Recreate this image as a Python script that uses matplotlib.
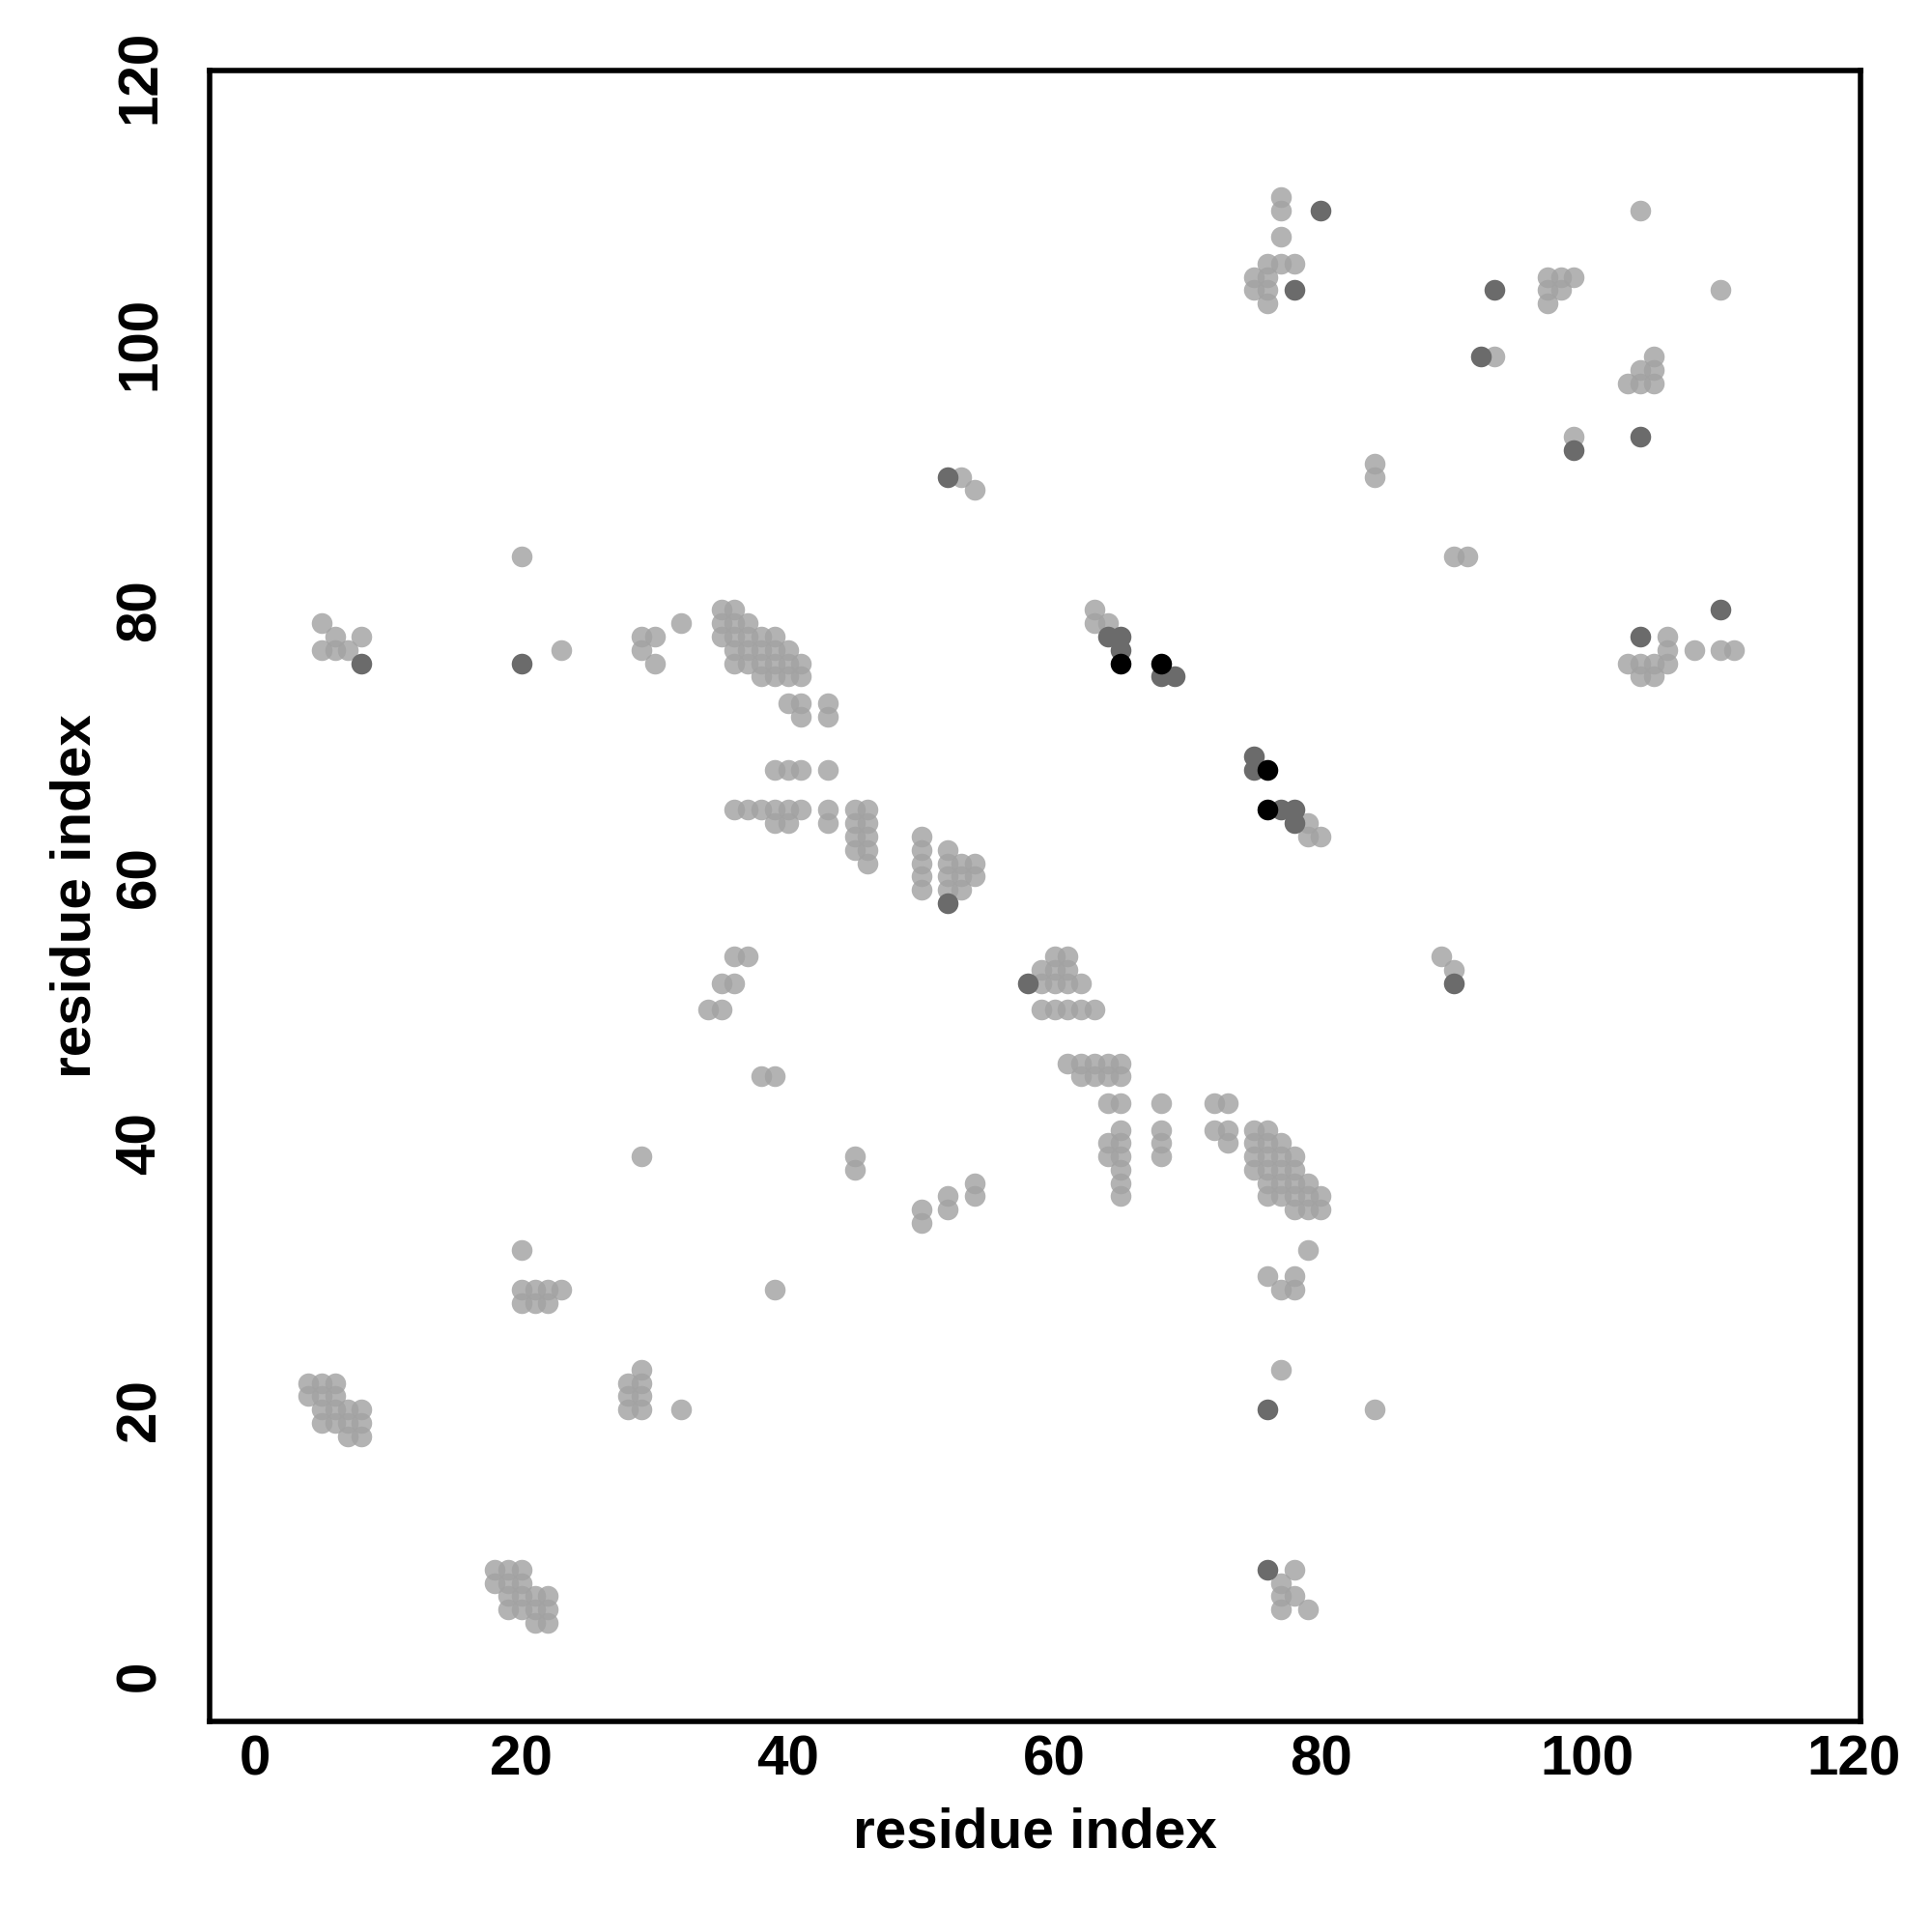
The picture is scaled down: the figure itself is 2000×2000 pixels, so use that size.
import matplotlib
matplotlib.use("Agg")
import matplotlib.pyplot as plt

# ---- data: contacts (x = residue i, y = residue j) grouped by shade ----
light_x = [4, 5, 6, 4, 5, 6, 5, 6, 7, 8, 5, 6, 7, 8, 7, 8,
           18, 19, 20, 18, 19, 20, 19, 20, 21, 22, 19, 20, 21, 22, 21, 22,
           29, 28, 29, 28, 29, 28, 29, 32,
           20, 20, 21, 22, 23, 20, 21, 22,
           29, 39, 45, 45, 50, 50, 52, 52, 54, 54,
           61, 62, 63, 64, 65, 62, 63, 64, 65,
           64, 65, 68, 72, 73, 65, 68, 72, 73,
           64, 65, 68, 73, 64, 65, 68, 65, 65, 65,
           75, 76, 75, 76, 77, 75, 76, 77, 78, 75, 76, 77, 78,
           76, 77, 78, 79, 76, 77, 78, 79, 80, 78, 79, 80,
           79, 76, 78, 77, 78, 77, 84, 78, 77, 77, 78, 77, 79,
           59, 60, 61, 62, 63, 59, 60, 61, 60, 61, 59, 60, 61, 62,
           34, 35, 35, 36, 36, 37, 38, 39,
           50, 50, 50, 50, 50, 52, 52, 52, 52, 53, 53, 53, 54, 54,
           36, 37, 38, 39, 40, 41, 43, 45, 46,
           39, 40, 43, 45, 46, 45, 46, 45, 46, 46,
           39, 40, 41, 43,
           35, 36, 35, 36, 37, 35, 36, 37, 38, 39,
           36, 37, 38, 39, 40, 36, 37, 38, 39, 40, 41,
           38, 39, 40, 41, 40, 41, 43, 41, 43,
           5, 6, 8, 5, 6, 7, 20, 23, 29, 30, 29, 30, 32,
           53, 54, 63, 63, 64,
           77, 77, 77, 76, 77, 78, 75, 76, 75, 76, 76,
           84, 84,
           104, 97, 98, 99, 97, 98, 97, 110, 93, 105, 104, 105, 103, 104, 105, 99,
           90, 91,
           106, 106, 108, 110, 111, 103, 104, 105, 106, 104, 105,
           89, 90, 79, 79, 80]
light_y = [22, 22, 22, 21, 21, 21, 20, 20, 20, 20, 19, 19, 19, 19, 18, 18,
           8, 8, 8, 7, 7, 7, 6, 6, 6, 6, 5, 5, 5, 5, 4, 4,
           23, 22, 22, 21, 21, 20, 20, 20,
           32, 29, 29, 29, 29, 28, 28, 28,
           39, 29, 39, 38, 35, 34, 36, 35, 37, 36,
           46, 46, 46, 46, 46, 45, 45, 45, 45,
           43, 43, 43, 43, 43, 41, 41, 41, 41,
           40, 40, 40, 40, 39, 39, 39, 38, 37, 36,
           41, 41, 40, 40, 40, 39, 39, 39, 39, 38, 38, 38, 38,
           37, 37, 37, 37, 36, 36, 36, 36, 36, 35, 35, 35,
           32, 30, 30, 29, 29, 23, 20, 8, 7, 6, 6, 5, 5,
           50, 50, 50, 50, 50, 53, 53, 53, 54, 54, 52, 52, 52, 52,
           50, 50, 52, 52, 54, 54, 45, 45,
           63, 62, 61, 60, 59, 62, 61, 60, 59, 61, 60, 59, 61, 60,
           65, 65, 65, 65, 65, 65, 65, 65, 65,
           64, 64, 64, 64, 64, 63, 63, 62, 62, 61,
           68, 68, 68, 68,
           80, 80, 79, 79, 79, 78, 78, 78, 78, 78,
           77, 77, 77, 77, 77, 76, 76, 76, 76, 76, 76,
           75, 75, 75, 75, 73, 73, 73, 72, 72,
           79, 78, 78, 77, 77, 77, 84, 77, 78, 78, 77, 76, 79,
           90, 89, 80, 79, 79,
           111, 110, 108, 106, 106, 106, 105, 105, 104, 104, 103,
           91, 90,
           110, 105, 105, 105, 104, 104, 103, 104, 99, 99, 98, 98, 97, 97, 97, 93,
           84, 84,
           78, 77, 77, 77, 77, 76, 76, 76, 76, 75, 75,
           54, 53, 64, 63, 63]

dark_x = [8, 20, 52, 58, 52, 64, 65, 65, 68, 69, 75, 75, 77, 78, 78,
          76, 76, 80, 78, 93, 92, 99, 104, 110, 104, 90]
dark_y = [76, 76, 90, 52, 58, 78, 78, 77, 75, 75, 69, 68, 65, 65, 64,
          20, 8, 110, 104, 104, 99, 92, 93, 80, 78, 52]

black_x = [65, 68, 76, 76]
black_y = [76, 76, 68, 65]

ticks = [0, 20, 40, 60, 80, 100, 120]
axis_label = "residue index"

plt.rcParams['font.family'] = ['Liberation Sans', 'DejaVu Sans']

fig = plt.figure(figsize=(10, 10), dpi=200)
ax = fig.add_axes([0.1085, 0.109, 0.8545, 0.8546])

msize = 60
ax.scatter(light_x, light_y, s=msize, color='#a2a2a2', alpha=0.82, linewidths=0, zorder=2)
ax.scatter(dark_x, dark_y, s=msize, color='#6b6b6b', linewidths=0, zorder=3)
ax.scatter(black_x, black_y, s=msize, color='#000000', linewidths=0, zorder=4)

ax.set_xlim(-3.4, 120.5)
ax.set_ylim(-3.4, 120.5)
ax.set_xticks(ticks)
ax.set_yticks(ticks)
ax.set_xticklabels([str(t) for t in ticks], fontsize=21, fontweight='bold')
ax.set_yticklabels([str(t) for t in ticks], fontsize=21, fontweight='bold',
                   rotation=90, va='center')
ax.tick_params(axis='x', length=0, pad=5)
ax.tick_params(axis='y', length=0, pad=16)

for sp in ax.spines.values():
    sp.set_linewidth(2.0)
    sp.set_color('black')

ax.set_xlabel(axis_label, fontsize=21, fontweight='bold')
ax.set_ylabel(axis_label, fontsize=21, fontweight='bold')
ax.xaxis.set_label_coords(0.5, -0.052)
ax.yaxis.set_label_coords(-0.065, 0.5)

fig.savefig("out.png", dpi=200, facecolor='white')
